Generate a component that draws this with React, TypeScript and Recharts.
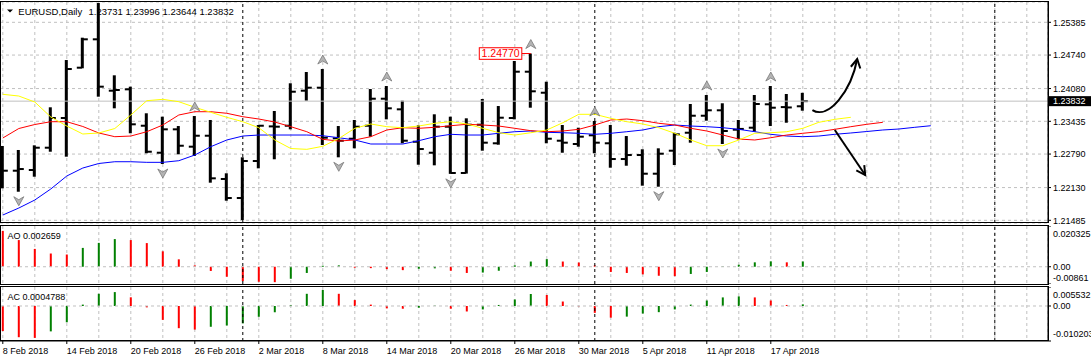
import { ComposedChart, Bar, Line, Scatter, XAxis, YAxis, CartesianGrid, ReferenceLine, ReferenceDot, Cell } from "recharts";

// EURUSD daily, 8 Feb 2018 .. 19 Apr 2018 (bar index 0..50)
const opens = [
  1.22318, 1.22462, 1.22476, 1.22915, 1.235, 1.24491, 1.2505, 1.24038, 1.24065, 1.23348,
  1.22816, 1.23277, 1.22935, 1.23151, 1.22299, 1.21924, 1.22653, 1.23335, 1.23348, 1.24038,
  1.24097, 1.231, 1.23092, 1.23348, 1.2388, 1.23671, 1.23033, 1.22816, 1.23329, 1.22417,
  1.23368, 1.23002, 1.235, 1.24412, 1.23998, 1.23053, 1.22988, 1.23159, 1.23002, 1.22692,
  1.22771, 1.22403, 1.22856, 1.2321, 1.23545, 1.23652, 1.2327, 1.23309, 1.2377, 1.23715,
  1.23731,
];
const highs = [
  1.22949, 1.2287, 1.22962, 1.23711, 1.24642, 1.25082, 1.25765, 1.24341, 1.24117, 1.23593,
  1.23526, 1.23342, 1.23539, 1.23461, 1.22411, 1.22726, 1.23362, 1.23638, 1.24184, 1.24406,
  1.24465, 1.23342, 1.23461, 1.24071, 1.2413, 1.23841, 1.23356, 1.23573, 1.23526, 1.23494,
  1.23874, 1.23736, 1.24623, 1.2477, 1.24215, 1.23362, 1.23309, 1.23441, 1.23362, 1.23145,
  1.22884, 1.22903, 1.2321, 1.23776, 1.23953, 1.2379, 1.23461, 1.23953, 1.2413, 1.23973,
  1.23996,
];
const lows = [
  1.22115, 1.22048, 1.22344, 1.22836, 1.22738, 1.24479, 1.2392, 1.23691, 1.23199, 1.22805,
  1.22594, 1.22785, 1.22752, 1.22226, 1.21871, 1.21491, 1.22509, 1.22687, 1.23277, 1.23841,
  1.22968, 1.22726, 1.22903, 1.23132, 1.23474, 1.23002, 1.2258, 1.22568, 1.224, 1.22405,
  1.22856, 1.22974, 1.23474, 1.23703, 1.23002, 1.22816, 1.22935, 1.22805, 1.22521, 1.2256,
  1.22167, 1.22147, 1.22574, 1.23014, 1.23447, 1.22988, 1.23081, 1.2323, 1.23342, 1.23407,
  1.23644,
];
const closes = [
  1.22462, 1.22495, 1.22915, 1.235, 1.24465, 1.2505, 1.24117, 1.24052, 1.23376, 1.22836,
  1.23277, 1.22954, 1.23151, 1.22312, 1.21924, 1.22653, 1.23348, 1.23329, 1.24018, 1.24097,
  1.23112, 1.23053, 1.23329, 1.2388, 1.23691, 1.23053, 1.22889, 1.23329, 1.22417, 1.23368,
  1.23014, 1.23506, 1.24412, 1.24026, 1.23092, 1.23014, 1.23132, 1.23014, 1.22692, 1.22771,
  1.22403, 1.22797, 1.23179, 1.23545, 1.23652, 1.23244, 1.23285, 1.23776, 1.23703, 1.23708,
  1.23832,
];

// Alligator lines (shifted into the future)
const lips = [
  1.23967, 1.23933, 1.23815, 1.2352, 1.23342, 1.23185, 1.23205, 1.23293, 1.23559, 1.23841,
  1.23868, 1.23821, 1.23711, 1.23612, 1.23514, 1.23427, 1.23309, 1.23067, 1.22899, 1.22883,
  1.22943, 1.23096, 1.23297, 1.23382, 1.23329, 1.23309, 1.23342, 1.23396, 1.23427, 1.23382,
  1.23297, 1.2321, 1.23165, 1.2321, 1.23264, 1.23407, 1.23573, 1.23573, 1.23494, 1.23427,
  1.23382, 1.23309, 1.23199, 1.23067, 1.22954, 1.22954, 1.23067, 1.23199, 1.2321, 1.2323,
  1.23297, 1.23415, 1.23474, 1.23514,
];
const teeth = [
  1.23106, 1.23293, 1.23372, 1.23427, 1.23427, 1.23333, 1.23205, 1.23132, 1.23145, 1.2323,
  1.23362, 1.23559, 1.23624, 1.23624, 1.23593, 1.23526, 1.2348, 1.23421, 1.23329, 1.2323,
  1.2308, 1.23047, 1.23067, 1.23132, 1.23264, 1.23309, 1.23297, 1.23317, 1.23348, 1.23376,
  1.23362, 1.23342, 1.23297, 1.2325, 1.2323, 1.23244, 1.23277, 1.23362, 1.23461, 1.2348,
  1.23447, 1.23396, 1.23362, 1.23297, 1.23244, 1.23165, 1.23086, 1.23067, 1.23112, 1.23165,
  1.23199, 1.2323, 1.23277, 1.23329, 1.23376, 1.23415,
];
const jaw = [
  1.21589, 1.21727, 1.21885, 1.22102, 1.22358, 1.22515, 1.22604, 1.22639, 1.22639, 1.22627,
  1.22627, 1.22659, 1.22771, 1.22935, 1.23067, 1.23145, 1.23165, 1.23165, 1.23165, 1.23165,
  1.23151, 1.23112, 1.23067, 1.22988, 1.22988, 1.22988, 1.23053, 1.23132, 1.23179, 1.23165,
  1.23165, 1.23199, 1.2323, 1.23244, 1.23218, 1.2321, 1.23199, 1.23179, 1.23199, 1.2323,
  1.23264, 1.23329, 1.23362, 1.23342, 1.23329, 1.23309, 1.23277, 1.2323, 1.23179, 1.23145,
  1.23132, 1.23145, 1.23179, 1.23205, 1.23234, 1.23264, 1.23283, 1.23317, 1.23348,
];

const ao = [
  0.0179, 0.0133, 0.0089, 0.0066, 0.0061, 0.0094, 0.0119, 0.0138, 0.0133, 0.0118,
  0.0077, 0.0037, 0.0007, -0.0021, -0.005, -0.0072, -0.0075, -0.0077, -0.006, -0.0031,
  0.0005, 0.0007, -0.0005, -0.0007, -0.0012, -0.0017, -0.001, -0.0008, -0.002, -0.0031,
  -0.0029, -0.002, 0.0007, 0.0026, 0.0038, 0.0026, 0.0021, 0.0007, -0.0026, -0.0031,
  -0.0038, -0.0045, -0.0047, -0.0036, -0.0026, 0.0002, 0.001, 0.0022, 0.0027, 0.0022,
  0.002659,
];
const ac = [
  -0.0073, -0.0091, -0.0093, -0.0074, -0.00475, 0.0004, 0.00355, 0.00405, 0.00253, -0.0004,
  -0.00405, -0.00647, -0.00688, -0.00606, -0.00568, -0.00507, -0.00315, -0.00183, 0.0003, 0.00355,
  0.00466, 0.00355, 0.00172, 0.0004, -0.0007, -0.0008, -0.0005, 0.0001, -0.0008, -0.0016,
  -0.001, 0.0003, 0.0019, 0.0035, 0.0032, 0.0013, -0.0001, -0.002, -0.0034, -0.0031,
  -0.0022, -0.0018, -0.001, 0.0004, 0.0016, 0.0025, 0.0028, 0.0025, 0.0016, 0.0003,
  0.0004788,
];

const fractalUpIdx = [6, 12, 20, 24, 33, 37, 44, 48];
const fractalDownIdx = [1, 10, 15, 21, 28, 41, 45];

const dateLabels = [
  "8 Feb 2018", "14 Feb 2018", "20 Feb 2018", "26 Feb 2018", "2 Mar 2018", "8 Mar 2018",
  "14 Mar 2018", "20 Mar 2018", "26 Mar 2018", "30 Mar 2018", "5 Apr 2018", "11 Apr 2018", "17 Apr 2018",
];
const dateIdx = [0, 4, 8, 12, 16, 20, 24, 28, 32, 36, 40, 44, 48];
const gridIdx = Array.from({ length: 33 }, (_, k) => k * 2);
const separatorIdx = [15, 37, 62];

const priceTicks = [1.25385, 1.2474, 1.2408, 1.23435, 1.2279, 1.2213, 1.21485];
const priceDomain = [1.21432, 1.25785];
const aoTicks = [0.020325, 0, -0.00861];
const aoTickLabels = ["0.020325", "0.00", "-0.00861"];
const acTicks = [0.005532, 0, -0.010203];
const acTickLabels = ["0.005532", "0.00", "-0.010203"];
const xDomain = [-0.175, 65.325];

// hand-drawn arrows (bar index, price)
const upArrow = [{ x: 50.6, y: 1.23657 }, { x: 53.4, y: 1.24662 }];
const downArrow = [{ x: 52.0, y: 1.23264 }, { x: 53.9, y: 1.22377 }];

const rows = Array.from({ length: 59 }, (_, i) => ({
  i,
  open: opens[i],
  high: highs[i],
  low: lows[i],
  close: closes[i],
  lips: lips[i],
  teeth: teeth[i],
  jaw: jaw[i],
  ao: ao[i],
  ac: ac[i],
}));
const upFractals = fractalUpIdx.map((i) => ({ i, price: highs[i] }));
const downFractals = fractalDownIdx.map((i) => ({ i, price: lows[i] }));

const FONT = "'Liberation Sans', Arial, sans-serif";
const GRID = "#c0c0c0";
const UP = "#008000";
const DOWN = "#ff0000";

const OhlcBar = (props: any) => {
  const { x, y, width, height, payload } = props;
  if (!payload || payload.open == null || !height) return <g />;
  const top = Math.min(y, y + height);
  const h = Math.abs(height);
  const cx = x + width / 2;
  const span = payload.high - payload.low;
  const yOf = (v: number) => top + ((payload.high - v) / span) * h;
  return (
    <g fill="#000">
      <rect x={cx - 1.5} y={top} width={3} height={h} />
      <rect x={cx - 5.5} y={yOf(payload.open) - 1} width={5} height={2} />
      <rect x={cx + 0.5} y={yOf(payload.close) - 1} width={5} height={2} />
    </g>
  );
};

const fractalShape = (dir: number) => (props: any) => {
  const { cx, cy } = props;
  const c = cy - dir * 9;
  const tip = c - dir * 5;
  const base = c + dir * 4;
  const notch = c + dir * 1;
  return (
    <path
      d={`M${cx},${tip} L${cx + 5},${base} L${cx},${notch} L${cx - 5},${base} Z`}
      fill="#b4b4b4"
      stroke="#787878"
      strokeWidth={0.8}
    />
  );
};

const arrowHead = (x2: number, y2: number, fx: number, fy: number) => {
  const a = Math.atan2(y2 - fy, x2 - fx);
  const len = 10;
  const s = 0.5;
  return `M${x2 - len * Math.cos(a - s)},${y2 - len * Math.sin(a - s)} L${x2},${y2} L${x2 - len * Math.cos(a + s)},${y2 - len * Math.sin(a + s)}`;
};

const CurvedArrow = (p: any) => {
  const { x1, y1, x2, y2 } = p;
  const c1x = x1 + 16, c1y = y1 + 10, c2x = x2 - 6, c2y = y2 + 32;
  return (
    <g fill="none" stroke="#000" strokeWidth={2}>
      <path d={`M${x1},${y1} C${c1x},${c1y} ${c2x},${c2y} ${x2},${y2}`} />
      <path d={arrowHead(x2, y2, c2x, c2y)} />
    </g>
  );
};

const StraightArrow = (p: any) => {
  const { x1, y1, x2, y2 } = p;
  return (
    <g fill="none" stroke="#000" strokeWidth={2}>
      <path d={`M${x1},${y1} L${x2},${y2}`} />
      <path d={arrowHead(x2, y2, x1, y1)} />
    </g>
  );
};

const PriceTick = (props: any) => {
  const { x, y, payload } = props;
  return (
    <text x={x} y={y} dy={3.2} fontSize={9} fill="#000" textAnchor="start" fontFamily={FONT}>
      {payload.value.toFixed(5)}
    </text>
  );
};

const makeSubTick = (ticks: number[], labels: string[], topDy: number, botDy: number) => (props: any) => {
  const { x, y, payload } = props;
  const k = ticks.indexOf(payload.value);
  const dy = k === 0 ? topDy : k === 2 ? botDy : 3.2;
  return (
    <text x={x} y={y} dy={dy} fontSize={9} fill="#000" textAnchor="start" fontFamily={FONT}>
      {labels[k]}
    </text>
  );
};

const DateTick = (props: any) => {
  const { x, y, payload } = props;
  const k = dateIdx.indexOf(payload.value);
  return (
    <text x={x} y={y} dy={8} fontSize={9} fill="#000" textAnchor="start" fontFamily={FONT}>
      {dateLabels[k]}
    </text>
  );
};

// hidden axis that only carries the grid ticks (every 2 bars)
const gridXAxis = (
  <XAxis xAxisId="g" type="number" dataKey="i" domain={xDomain} ticks={gridIdx} interval={0} allowDataOverflow hide />
);

const separators = separatorIdx.map((s) => (
  <ReferenceLine key={`s${s}`} x={s} stroke="#000" strokeDasharray="3 3" />
));

const App = () => {
  const last = closes.length - 1;
  return (
    <div style={{ position: "absolute", left: 0, top: 0, width: 1091, height: 357, background: "#fff", fontFamily: FONT }}>
      <div style={{ position: "absolute", left: 0, top: 0 }}>
        <ComposedChart width={1091} height={224} data={rows} margin={{ top: 2, right: 0, bottom: 1, left: 0 }}>
          <XAxis type="number" dataKey="i" domain={xDomain} allowDataOverflow hide />
          {gridXAxis}
          <YAxis
            orientation="right"
            type="number"
            width={43}
            domain={priceDomain}
            ticks={priceTicks}
            interval={0}
            allowDataOverflow
            tick={<PriceTick />}
            tickSize={3}
            tickMargin={2}
            axisLine={{ stroke: "#000" }}
            tickLine={{ stroke: "#000" }}
          />
          <CartesianGrid xAxisId="g" stroke={GRID} strokeDasharray="3 3" />
          {separators}
          <ReferenceLine y={closes[last]} stroke="#c0c0c0" />
          <Line dataKey="jaw" stroke="#0000ff" strokeWidth={1} dot={false} isAnimationActive={false} />
          <Line dataKey="teeth" stroke="#ff0000" strokeWidth={1} dot={false} isAnimationActive={false} />
          <Line dataKey="lips" stroke="#ffff00" strokeWidth={1} dot={false} isAnimationActive={false} />
          <Bar
            dataKey={(d: any) => (d.low == null ? null : [d.low, d.high])}
            barSize={3}
            shape={<OhlcBar />}
            isAnimationActive={false}
          />
          <Scatter data={upFractals} dataKey="price" shape={fractalShape(1)} isAnimationActive={false} />
          <Scatter data={downFractals} dataKey="price" shape={fractalShape(-1)} isAnimationActive={false} />
          <ReferenceDot
            x={33}
            y={highs[33]}
            ifOverflow="visible"
            shape={(p: any) => (
              <g>
                <line x1={p.cx - 9} y1={p.cy} x2={p.cx} y2={p.cy} stroke={DOWN} strokeWidth={1} />
                <rect x={p.cx - 51.5} y={p.cy - 5.8} width={42.5} height={11.6} fill="#fff" stroke={DOWN} strokeWidth={1} />
                <text x={p.cx - 30.2} y={p.cy + 3.8} textAnchor="middle" fontSize={10.5} fill={DOWN} fontFamily={FONT}>
                  {highs[33].toFixed(5)}
                </text>
              </g>
            )}
          />
          <ReferenceDot
            x={xDomain[1]}
            y={closes[last]}
            ifOverflow="visible"
            shape={(p: any) => (
              <g>
                <rect x={p.cx + 1} y={p.cy - 5} width={43} height={10} fill="#000" />
                <text x={p.cx + 5} y={p.cy + 3.3} fontSize={9} fill="#fff" fontFamily={FONT}>
                  {closes[last].toFixed(5)}
                </text>
              </g>
            )}
          />
          <ReferenceLine segment={upArrow} ifOverflow="visible" shape={<CurvedArrow />} />
          <ReferenceLine segment={downArrow} ifOverflow="visible" shape={<StraightArrow />} />
        </ComposedChart>
      </div>

      <div style={{ position: "absolute", left: 0, top: 226 }}>
        <ComposedChart width={1091} height={58} data={rows} margin={{ top: 0, right: 0, bottom: 0, left: 0 }}>
          <XAxis type="number" dataKey="i" domain={xDomain} allowDataOverflow hide />
          {gridXAxis}
          <YAxis
            orientation="right"
            type="number"
            width={43}
            domain={[aoTicks[2], aoTicks[0]]}
            ticks={aoTicks}
            interval={0}
            allowDataOverflow
            tick={makeSubTick(aoTicks, aoTickLabels, 10.8, -3)}
            tickSize={3}
            tickMargin={2}
            axisLine={{ stroke: "#000" }}
            tickLine={{ stroke: "#000" }}
          />
          <CartesianGrid xAxisId="g" horizontal={false} stroke={GRID} strokeDasharray="3 3" />
          <ReferenceLine y={0} stroke={GRID} strokeDasharray="3 3" />
          {separators}
          <Bar dataKey="ao" barSize={2} isAnimationActive={false}>
            {rows.map((r, i) => (
              <Cell key={i} fill={i > 0 && (r.ao as number) > (rows[i - 1].ao as number) ? UP : DOWN} />
            ))}
          </Bar>
        </ComposedChart>
      </div>

      <div style={{ position: "absolute", left: 0, top: 287 }}>
        <ComposedChart width={1091} height={70} data={rows} margin={{ top: 0, right: 0, bottom: 0, left: 0 }}>
          <XAxis
            type="number"
            dataKey="i"
            domain={xDomain}
            allowDataOverflow
            ticks={dateIdx}
            interval={0}
            height={16}
            tick={<DateTick />}
            tickSize={3}
            tickMargin={2}
            axisLine={{ stroke: "#000" }}
            tickLine={{ stroke: "#000" }}
          />
          {gridXAxis}
          <YAxis
            orientation="right"
            type="number"
            width={43}
            domain={[acTicks[2], acTicks[0]]}
            ticks={acTicks}
            interval={0}
            allowDataOverflow
            tick={makeSubTick(acTicks, acTickLabels, 10.5, -3.8)}
            tickSize={3}
            tickMargin={2}
            axisLine={{ stroke: "#000" }}
            tickLine={{ stroke: "#000" }}
          />
          <CartesianGrid xAxisId="g" horizontal={false} stroke={GRID} strokeDasharray="3 3" />
          <ReferenceLine y={0} stroke={GRID} strokeDasharray="3 3" />
          {separators}
          <Bar dataKey="ac" barSize={2} isAnimationActive={false}>
            {rows.map((r, i) => (
              <Cell key={i} fill={i > 0 && (r.ac as number) > (rows[i - 1].ac as number) ? UP : DOWN} />
            ))}
          </Bar>
        </ComposedChart>
      </div>

      <svg width={1091} height={357} style={{ position: "absolute", left: 0, top: 0, pointerEvents: "none" }}>
        <g fill="none" stroke="#000" strokeWidth={1}>
          <rect x={0.5} y={1.5} width={1048} height={221} />
          <rect x={0.5} y={225.5} width={1048} height={59} />
          <rect x={0.5} y={286.5} width={1048} height={54} />
        </g>
        <path d="M7,9.5 L13,9.5 L10,12.5 Z" fill="#000" />
        <text x={18.3} y={14.5} fontSize={9.5} fill="#000" fontFamily={FONT}>EURUSD,Daily</text>
        <text x={88.5} y={14.5} fontSize={9.5} fill="#000" fontFamily={FONT}>
          {[opens[last], highs[last], lows[last], closes[last]].map((v) => v.toFixed(5)).join(" ")}
        </text>
        <text x={7.6} y={239} fontSize={9} fill="#000" fontFamily={FONT}>AO {ao[last].toFixed(6)}</text>
        <text x={7.6} y={300} fontSize={9} fill="#000" fontFamily={FONT}>AC {ac[last].toFixed(7)}</text>
      </svg>
    </div>
  );
};

export default App;
